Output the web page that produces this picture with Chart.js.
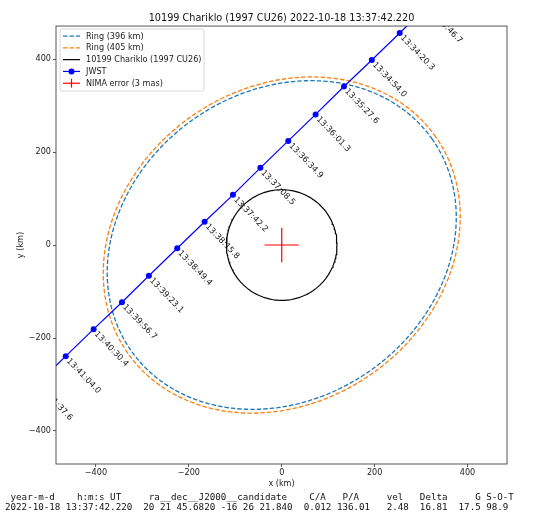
<!DOCTYPE html>
<html>
<head>
<meta charset="utf-8">
<title>10199 Chariklo occultation by JWST</title>
<script src="https://cdn.jsdelivr.net/npm/chart.js@4.4.1/dist/chart.umd.min.js"></script>
<style>
  html, body { margin: 0; padding: 0; background: #fff; }
  canvas { display: block; }
</style>
</head>
<body>
<canvas id="chart" width="552" height="523"></canvas>
<script>
const titleText = "10199 Chariklo (1997 CU26) 2022-10-18 13:37:42.220";

// JWST track in the sky plane (km from Chariklo), one marker every ~33.6 s
const jwstTimes = ["13:33:46.7", "13:34:20.3", "13:34:54.0", "13:35:27.6", "13:36:01.3",
  "13:36:34.9", "13:37:08.5", "13:37:42.2", "13:38:15.8", "13:38:49.4",
  "13:39:23.1", "13:39:56.7", "13:40:30.4", "13:41:04.0", "13:41:37.6"];
const jwstX = [314, 254, 194, 134, 73, 14, -46, -105, -166, -225, -286, -344, -405, -465, -525];
const jwstY = [514, 456, 398, 341, 281, 224, 166, 108, 50, -7, -66, -123, -181, -239, -297];

// body and rings
const ringLabels = ["Ring (396 km)", "Ring (405 km)"];
const ringRadii = [396, 405];
const ringAxisRatio = 0.835;  // projected minor / major axis
const ringAngle = 35;         // deg, major axis from +x
const charikloRadius = 119;
const nimaError = 37;         // km, 3 mas at 16.81 au

const xTicks = [-400, -200, 0, 200, 400];
const yTicks = [-400, -200, 0, 200, 400];

const tableHeader = " year-m-d    h:m:s UT     ra__dec__J2000__candidate    C/A   P/A     vel   Delta     G S-O-T";
const tableRow = "2022-10-18 13:37:42.220  20 21 45.6820 -16 26 21.840  0.012 136.01   2.48  16.81  17.5 98.9";

const FONT = '"DejaVu Sans", sans-serif';

// outline of a (possibly projected) circle of radius a
function ellipse(a, ratio, angleDeg, n) {
  const t = angleDeg * Math.PI / 180, b = a * ratio, pts = [];
  for (let i = 0; i <= n; i++) {
    const p = 2 * Math.PI * i / n;
    const u = a * Math.cos(p), v = b * Math.sin(p);
    pts.push({ x: u * Math.cos(t) - v * Math.sin(t), y: u * Math.sin(t) + v * Math.cos(t) });
  }
  return pts;
}

const ringColors = ["#1f77b4", "#ff7f0e"];
const datasets = ringRadii.map((r, i) => ({
  label: ringLabels[i],
  data: ellipse(r, ringAxisRatio, ringAngle, 360),
  borderColor: ringColors[i],
  borderWidth: 1.3,
  borderDash: [4.5, 2],
  order: 5 - i
}));

datasets.push({
  label: "10199 Chariklo (1997 CU26)",
  data: ellipse(charikloRadius, 1, 0, 180),
  borderColor: "#000000",
  borderWidth: 1.2,
  order: 3
});

datasets.push({
  label: "JWST",
  data: jwstX.map((x, i) => ({ x: x, y: jwstY[i] })),
  borderColor: "#0000ff",
  backgroundColor: "#0000ff",
  borderWidth: 1.2,
  pointRadius: 3,
  pointBorderWidth: 0,
  order: 2
});

datasets.push({
  label: "NIMA error (3 mas)",
  data: [{ x: -nimaError, y: 0 }, { x: nimaError, y: 0 }, { x: 0, y: null },
         { x: 0, y: -nimaError }, { x: 0, y: nimaError }],
  borderColor: "#ff0000",
  borderWidth: 1.2,
  spanGaps: false,
  errorBar: true,
  order: 1
});

datasets.forEach(ds => {
  ds.showLine = true;
  ds.fill = false;
  ds.tension = 0;
  ds.clip = 0;
  if (ds.pointRadius === undefined) ds.pointRadius = 0;
});

const minus = v => (v < 0 ? "\u2212" + Math.abs(v) : String(v));

const decorations = {
  id: "decorations",
  afterDatasetsDraw(chart) {
    const { ctx, chartArea: a, scales: { x, y } } = chart;
    // time stamps along the track, clipped to the axes
    ctx.save();
    ctx.beginPath();
    ctx.rect(a.left, a.top, a.right - a.left, a.bottom - a.top);
    ctx.clip();
    ctx.font = "8.3px " + FONT;
    ctx.fillStyle = "#222";
    ctx.textBaseline = "middle";
    ctx.textAlign = "left";
    jwstTimes.forEach((t, i) => {
      ctx.save();
      ctx.translate(x.getPixelForValue(jwstX[i]), y.getPixelForValue(jwstY[i]));
      ctx.rotate(46 * Math.PI / 180);
      ctx.fillText(t, 4, 1);
      ctx.restore();
    });
    ctx.restore();

    // axes frame
    ctx.save();
    ctx.strokeStyle = "#444";
    ctx.lineWidth = 0.9;
    ctx.strokeRect(a.left, a.top, a.right - a.left, a.bottom - a.top);
    ctx.restore();
  },
  afterDraw(chart) {
    const { ctx, chartArea: a } = chart;
    // legend box, matplotlib style
    const lx = a.left + 4, ly = a.top + 3, lw = 144, lh = 62, row = 11.8;
    ctx.save();
    ctx.beginPath();
    ctx.roundRect(lx, ly, lw, lh, 2);
    ctx.fillStyle = "rgba(255,255,255,0.85)";
    ctx.fill();
    ctx.strokeStyle = "#d0d0d0";
    ctx.lineWidth = 0.8;
    ctx.stroke();
    ctx.font = "8.1px " + FONT;
    ctx.textBaseline = "middle";
    ctx.fillStyle = "#222";
    chart.data.datasets.forEach((ds, i) => {
      const cy = ly + 7 + i * row;
      ctx.strokeStyle = ds.borderColor;
      ctx.lineWidth = ds.borderWidth;
      ctx.setLineDash(ds.borderDash || []);
      ctx.beginPath();
      ctx.moveTo(lx + 3, cy);
      ctx.lineTo(lx + 20, cy);
      ctx.stroke();
      ctx.setLineDash([]);
      if (ds.pointRadius > 0) {
        ctx.fillStyle = ds.backgroundColor;
        ctx.beginPath();
        ctx.arc(lx + 11.5, cy, ds.pointRadius, 0, 2 * Math.PI);
        ctx.fill();
      }
      if (ds.errorBar) {
        ctx.beginPath();
        ctx.moveTo(lx + 11.5, cy - 4.5);
        ctx.lineTo(lx + 11.5, cy + 4.5);
        ctx.stroke();
      }
      ctx.fillStyle = "#222";
      ctx.fillText(ds.label, lx + 26, cy + 0.5);
    });
    // summary table under the plot
    ctx.font = '9.2px "DejaVu Sans Mono", monospace';
    ctx.fillStyle = "#111";
    ctx.textAlign = "left";
    ctx.fillText(tableHeader, 5, 497.3);
    ctx.fillText(tableRow, 5, 507.7);
    ctx.restore();
  }
};

const axisCommon = {
  type: "linear",
  grid: { drawOnChartArea: false, drawTicks: true, tickLength: 3, tickColor: "#333", tickWidth: 0.8 },
  border: { display: false },
  ticks: { font: { family: FONT, size: 8.1 }, color: "#222", callback: minus }
};

new Chart(document.getElementById("chart"), {
  type: "scatter",
  data: { datasets: datasets },
  options: {
    responsive: false,
    devicePixelRatio: 1,
    animation: false,
    events: [],
    layout: { padding: { left: 0, right: 45, top: 0, bottom: 29 } },
    plugins: {
      legend: { display: false },
      tooltip: { enabled: false },
      title: {
        display: true,
        text: titleText,
        fullSize: false,
        color: "#111",
        font: { family: FONT, size: 9.7, weight: "normal" },
        padding: { top: 12.5, bottom: 1.9 }
      }
    },
    scales: {
      x: Object.assign({}, axisCommon, {
        min: -486, max: 485,
        ticks: Object.assign({}, axisCommon.ticks, { padding: 1, maxRotation: 0 }),
        title: { display: true, text: "x (km)", color: "#222", font: { family: FONT, size: 8.1 }, padding: { top: 0, bottom: 5 } },
        afterBuildTicks: s => { s.ticks = xTicks.map(v => ({ value: v })); },
        afterFit: s => { s.height = 30; }
      }),
      y: Object.assign({}, axisCommon, {
        min: -471, max: 471,
        ticks: Object.assign({}, axisCommon.ticks, { padding: 2 }),
        title: { display: true, text: "y (km)", color: "#222", font: { family: FONT, size: 8.1 }, padding: { top: 16, bottom: 0 } },
        afterBuildTicks: s => { s.ticks = yTicks.map(v => ({ value: v })); },
        afterFit: s => { s.width = 56; }
      })
    }
  },
  plugins: [decorations]
});
</script>
</body>
</html>
